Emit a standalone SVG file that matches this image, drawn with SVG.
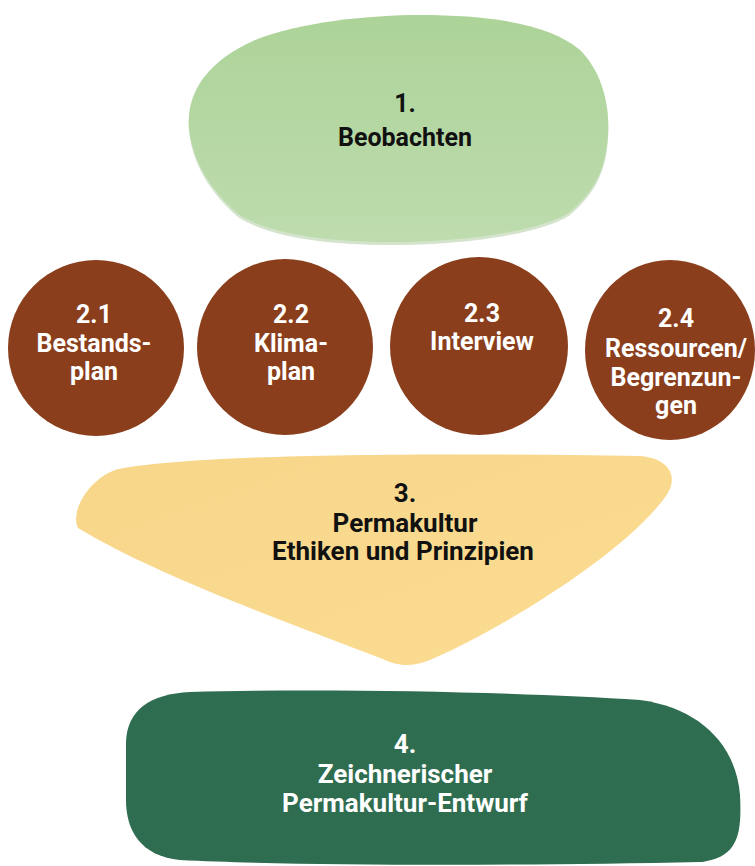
<svg xmlns="http://www.w3.org/2000/svg" width="755" height="866" viewBox="0 0 755 866">
<defs>
<linearGradient id="gGreen" x1="0" y1="0" x2="0" y2="1">
<stop offset="0" stop-color="#acd398"/>
<stop offset="1" stop-color="#bedcae"/>
</linearGradient>
<linearGradient id="gYellow" x1="0" y1="0" x2="1" y2="1">
<stop offset="0" stop-color="#f7d68a"/>
<stop offset="1" stop-color="#fbdc91"/>
</linearGradient>
</defs>
<style>
.t{font-family:Roboto,"Liberation Sans",sans-serif;font-weight:700;text-anchor:middle}
.dark{fill:#111111}
.light{fill:#ffffff}
.brown{fill:#8a3e1c}
.f25{font-size:25px}
.f26{font-size:26px}
</style>
<rect width="755" height="866" fill="#ffffff"/>
<g id="node1">
<path d="M189 128 C186 95 205 62 255 40 C300 22 370 15 420 15 C490 15 550 24 580 50 C602 72 610 105 608 135 C606 165 598 188 570 212 C540 232 460 242 390 242 C320 242 265 232 238 214 C210 190 192 160 189 128 Z" fill="#a9c99a" transform="translate(0,3)" opacity="0.5"/>
<path d="M189 128 C186 95 205 62 255 40 C300 22 370 15 420 15 C490 15 550 24 580 50 C602 72 610 105 608 135 C606 165 598 188 570 212 C540 232 460 242 390 242 C320 242 265 232 238 214 C210 190 192 160 189 128 Z" fill="url(#gGreen)"/>
<text class="t dark f25" x="405" y="112">1.</text>
<text class="t dark f25" x="405" y="146">Beobachten</text>
</g>
<g id="node2_1">
<circle class="brown" cx="96" cy="348" r="88"/>
<text class="t light f25" x="94" y="323">2.1</text>
<text class="t light f25" x="94" y="352">Bestands-</text>
<text class="t light f25" x="94" y="380">plan</text>
</g>
<g id="node2_2">
<circle class="brown" cx="285" cy="347" r="88"/>
<text class="t light f25" x="291" y="323">2.2</text>
<text class="t light f25" x="291" y="352">Klima-</text>
<text class="t light f25" x="291" y="380">plan</text>
</g>
<g id="node2_3">
<circle class="brown" cx="479" cy="346" r="89"/>
<text class="t light f25" x="482" y="322">2.3</text>
<text class="t light f25" x="482" y="350">Interview</text>
</g>
<g id="node2_4">
<ellipse class="brown" cx="670" cy="350" rx="85" ry="90"/>
<text class="t light f25" x="676" y="327">2.4</text>
<text class="t light f25" x="676" y="357">Ressourcen/</text>
<text class="t light f25" x="676" y="386">Begrenzun-</text>
<text class="t light f25" x="676" y="414">gen</text>
</g>
<g id="node3">
<path d="M78 528 C70 512 88 480 115 470 C180 455 400 452 640 456 C668 458 680 476 666 496 C620 560 480 640 430 660 C410 668 398 666 380 658 C280 620 150 572 78 528 Z" fill="url(#gYellow)"/>
<text class="t dark f26" x="405" y="502">3.</text>
<text class="t dark f26" x="405" y="532">Permakultur</text>
<text class="t dark f26" x="403" y="560">Ethiken und Prinzipien</text>
</g>
<g id="node4">
<path d="M126 742 C127 710 150 694 190 692 C330 688 520 692 640 700 C700 708 736 745 740 795 C742 835 738 858 700 862 C520 866 300 866 180 860 C140 856 126 830 126 800 Z" fill="#2f6d50"/>
<text class="t light f26" x="405" y="753">4.</text>
<text class="t light f26" x="405" y="783">Zeichnerischer</text>
<text class="t light f26" x="405" y="812">Permakultur-Entwurf</text>
</g>
<g id="connectors"/>
</svg>
